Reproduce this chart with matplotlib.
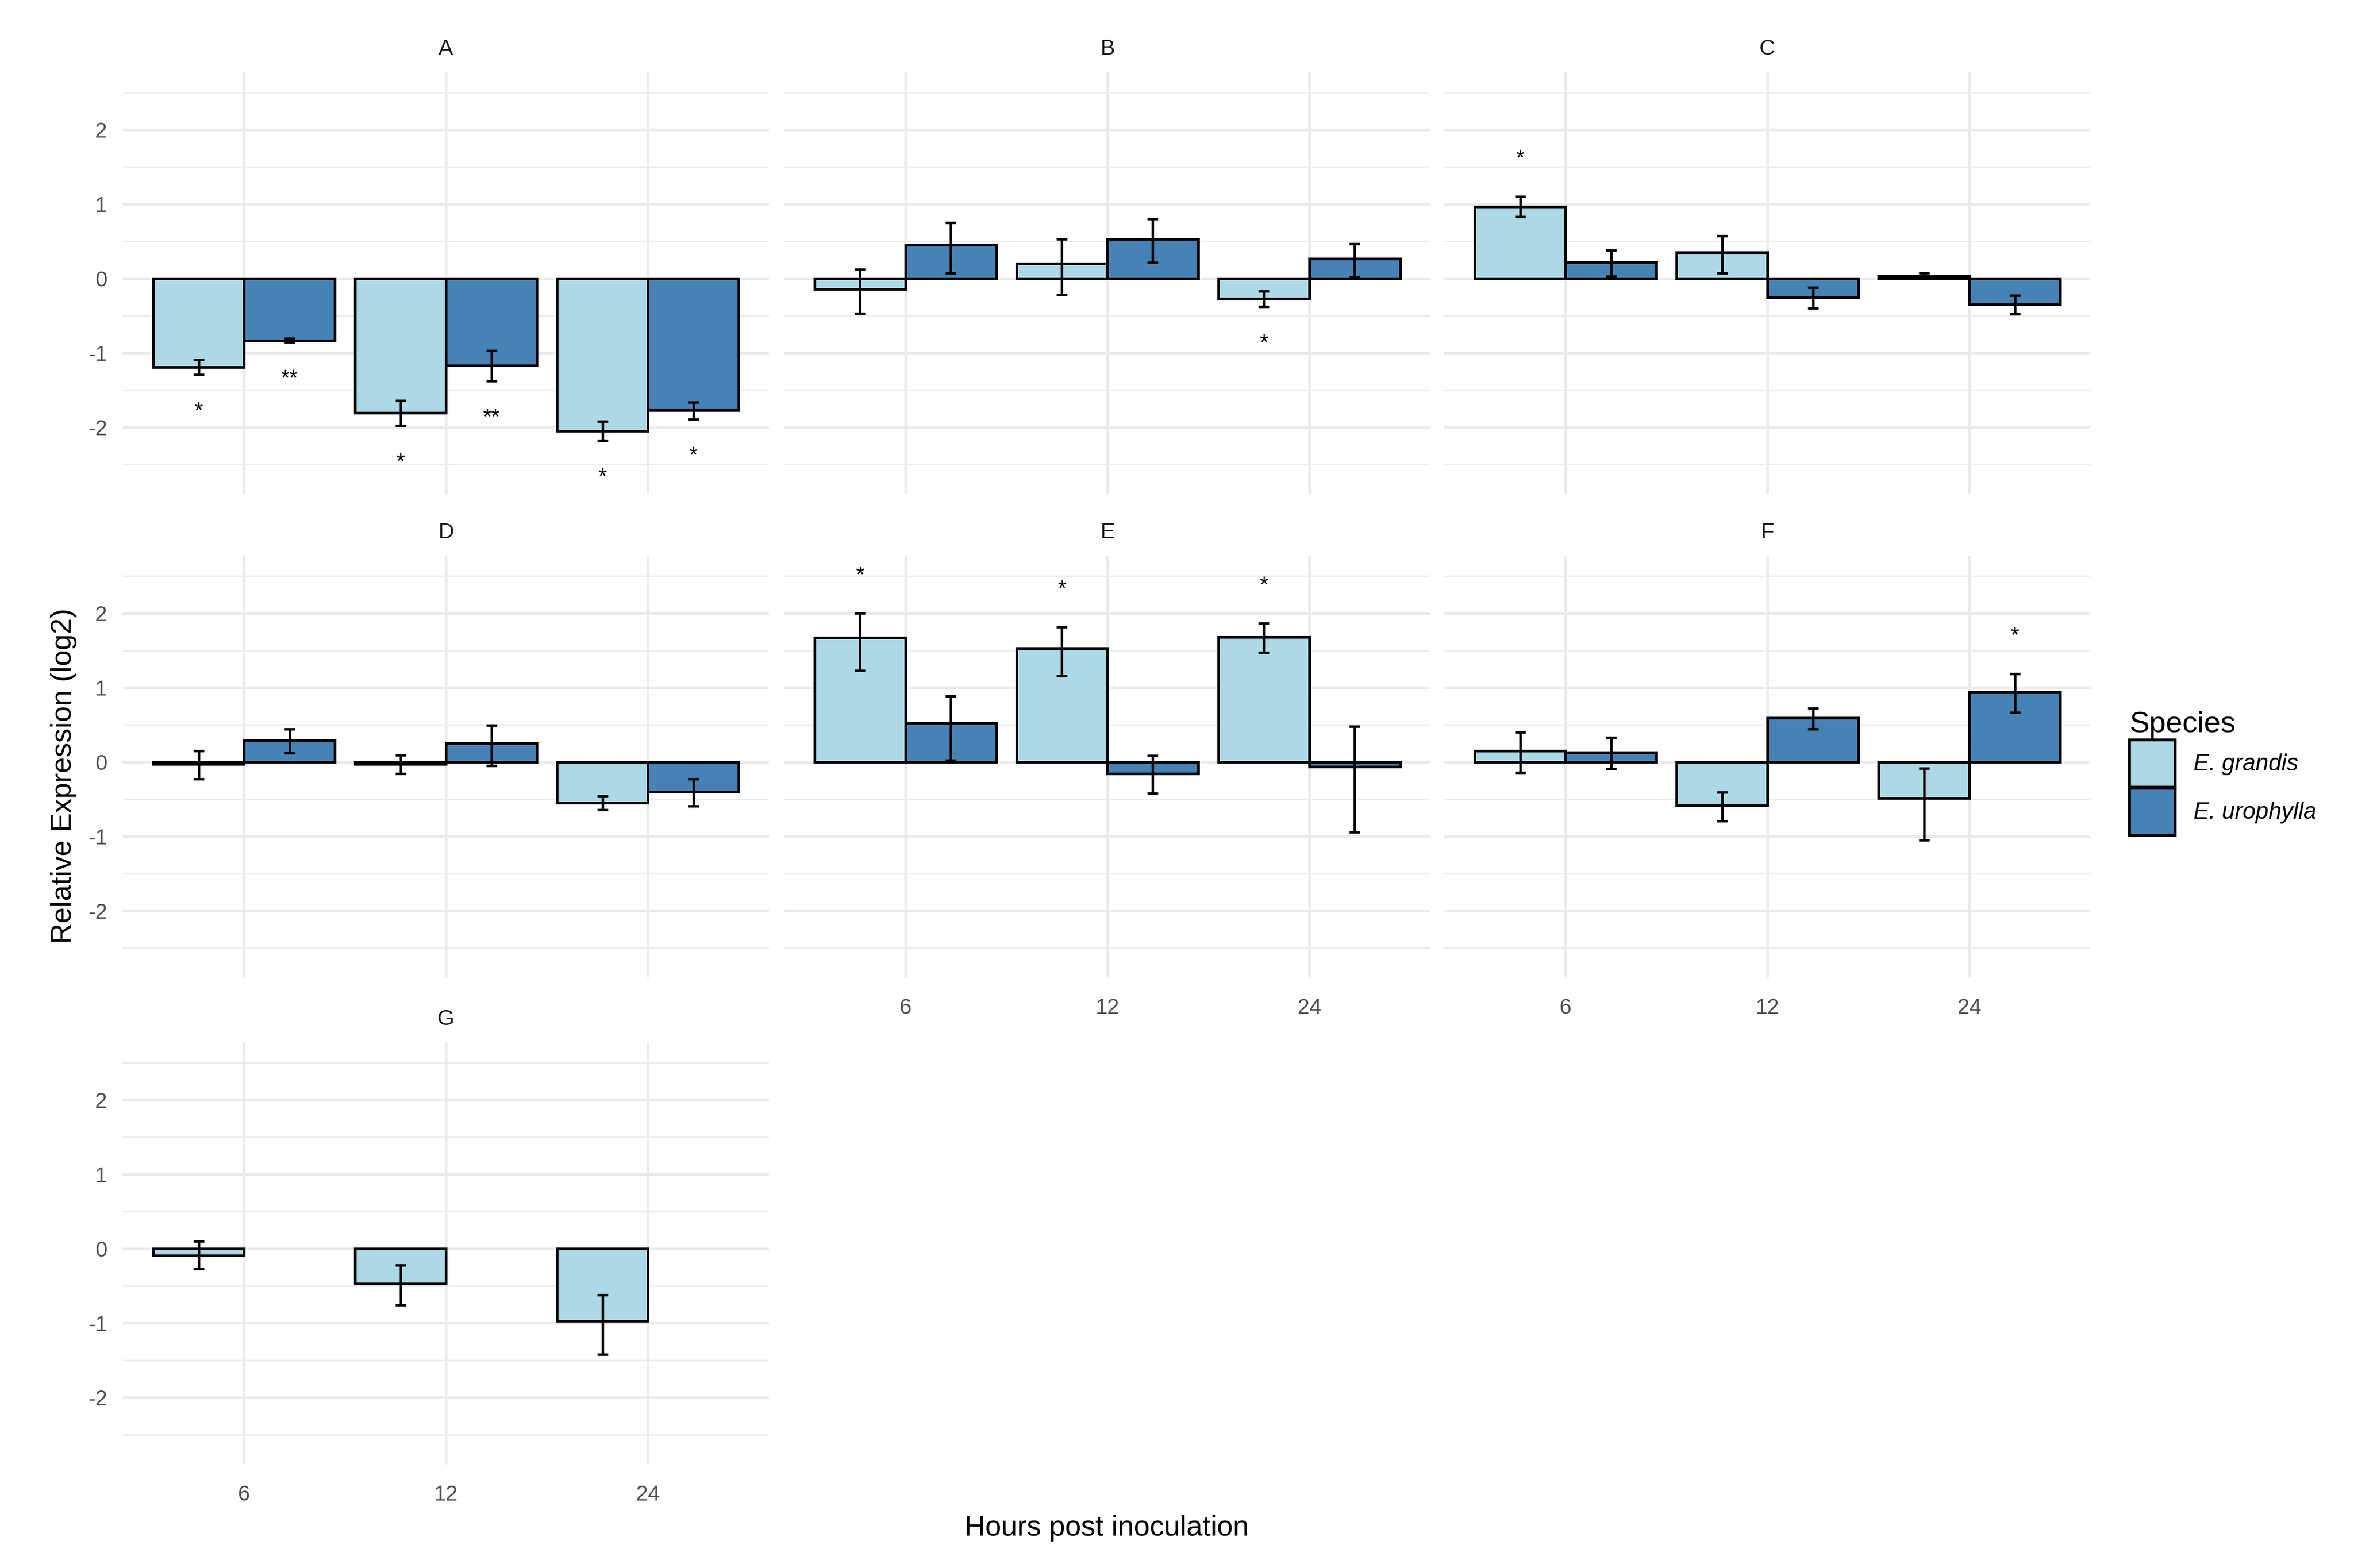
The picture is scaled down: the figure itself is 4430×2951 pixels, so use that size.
import numpy as np
import matplotlib
matplotlib.use("Agg")
from matplotlib import pyplot as plt
from matplotlib.patches import Patch

plt.rcParams['font.family'] = ['Liberation Sans', 'DejaVu Sans']

# data (log2 relative expression, error bar ends)
panels = ['A', 'B', 'C', 'D', 'E', 'F', 'G']
hours = ['6', '12', '24']
species = ['E. grandis', 'E. urophylla']

grandis_mean = [[-1.19, -1.81, -2.05], [-0.14, 0.20, -0.27], [0.965, 0.35, 0.03],
                [-0.03, -0.03, -0.55], [1.67, 1.525, 1.675], [0.15, -0.585, -0.485],
                [-0.09, -0.47, -0.97]]
grandis_lo = [[-1.29, -1.98, -2.18], [-0.47, -0.22, -0.38], [0.83, 0.07, 0.01],
              [-0.23, -0.16, -0.64], [1.23, 1.155, 1.47], [-0.145, -0.795, -1.05],
              [-0.275, -0.76, -1.42]]
grandis_hi = [[-1.09, -1.645, -1.925], [0.12, 0.53, -0.17], [1.10, 0.57, 0.07],
              [0.15, 0.09, -0.46], [2.0, 1.815, 1.86], [0.40, -0.41, -0.085],
              [0.10, -0.22, -0.62]]
urophylla_mean = [[-0.835, -1.17, -1.775], [0.45, 0.53, 0.26], [0.21, -0.26, -0.35],
                  [0.29, 0.25, -0.40], [0.52, -0.155, -0.065], [0.125, 0.59, 0.945],
                  None]
urophylla_lo = [[-0.86, -1.377, -1.896], [0.07, 0.21, 0.02], [0.03, -0.40, -0.48],
                [0.12, -0.05, -0.59], [0.02, -0.42, -0.94], [-0.095, 0.44, 0.665],
                None]
urophylla_hi = [[-0.81, -0.974, -1.667], [0.75, 0.80, 0.46], [0.38, -0.12, -0.23],
                [0.44, 0.49, -0.23], [0.885, 0.085, 0.48], [0.33, 0.72, 1.185],
                None]
grandis_sig = [['*', '*', '*'], ['', '', '*'], ['*', '', ''], ['', '', ''],
               ['*', '*', '*'], ['', '', ''], ['', '', '']]
urophylla_sig = [['**', '**', '*'], ['', '', ''], ['', '', ''], ['', '', ''],
                 ['', '', ''], ['', '', '*'], ['', '', '']]

col_light = '#ADD8E6'
col_dark = '#4682B4'
grid_col = '#EBEBEB'

W, H = 4430, 2951
fig = plt.figure(figsize=(W / 300, H / 300), dpi=300)

col_left = [231, 1476, 2718]
row_top = [136, 1046, 1962]
pw, ph = 1216, 794

x = np.arange(1, 4)
bw = 0.45


def draw_bars(ax, mean, lo, hi, sig, offset, colour):
    mean = np.array(mean)
    err = [mean - np.array(lo), np.array(hi) - mean]
    ax.bar(x + offset, mean, width=bw, color=colour, edgecolor='black',
           linewidth=1.2, zorder=3)
    ax.errorbar(x + offset, mean, yerr=err, fmt='none', ecolor='black',
                elinewidth=1.1, capsize=2.3, capthick=1.1, zorder=4)
    for i in range(3):
        if sig[i] == '':
            continue
        if mean[i] < 0:
            ys = lo[i] - 0.5
        else:
            ys = hi[i] + 0.5
        ax.text(x[i] + offset, ys, sig[i], ha='center', va='center',
                fontsize=10, color='black', zorder=5)


for k, name in enumerate(panels):
    r, c = divmod(k, 3)
    left = col_left[c] / W
    bottom = 1 - (row_top[r] + ph) / H
    ax = fig.add_axes([left, bottom, pw / W, ph / H])

    draw_bars(ax, grandis_mean[k], grandis_lo[k], grandis_hi[k],
              grandis_sig[k], -bw / 2, col_light)
    if urophylla_mean[k] is not None:
        draw_bars(ax, urophylla_mean[k], urophylla_lo[k], urophylla_hi[k],
                  urophylla_sig[k], bw / 2, col_dark)

    ax.set_xlim(0.4, 3.6)
    ax.set_ylim(-2.9, 2.77)
    ax.set_yticks([-2, -1, 0, 1, 2])
    ax.set_yticks([-2.5, -1.5, -0.5, 0.5, 1.5, 2.5], minor=True)
    ax.set_xticks(x)
    ax.set_axisbelow(True)
    ax.grid(which='major', color=grid_col, linewidth=1.2)
    ax.grid(which='minor', axis='y', color=grid_col, linewidth=0.6)
    for s in ax.spines.values():
        s.set_visible(False)
    ax.tick_params(which='both', length=0, labelsize=9.7, labelcolor='#4D4D4D')
    ax.tick_params(axis='y', pad=7)
    ax.tick_params(axis='x', pad=9)

    # tick labels only on outer panels, like facet_wrap
    if c == 0:
        ax.set_yticklabels(['-2', '-1', '0', '1', '2'])
    else:
        ax.set_yticklabels([])
    if k >= 4:
        ax.set_xticklabels(hours)
    else:
        ax.set_xticklabels([])

    ax.set_title(name, fontsize=9.9, color='#1A1A1A', pad=8)

fig.text(2083 / W, 1 - 2876 / H, 'Hours post inoculation', ha='center',
         va='center', fontsize=13)
fig.text(120 / W, 1 - 1460 / H, 'Relative Expression (log2)', ha='center',
         va='center', rotation=90, fontsize=13)

handles = [Patch(facecolor=col_light, edgecolor='black', linewidth=1.3),
           Patch(facecolor=col_dark, edgecolor='black', linewidth=1.3)]
leg = fig.legend(handles, species, loc='center left',
                 bbox_to_anchor=(3968 / W, 1 - 1455 / H), frameon=False,
                 title='Species', title_fontsize=13.5, alignment='left',
                 prop={'style': 'italic', 'size': 10.5},
                 handlelength=1.95, handleheight=2.75, labelspacing=0.05,
                 handletextpad=0.8)

fig.savefig('out.png', dpi=300, facecolor='white')
